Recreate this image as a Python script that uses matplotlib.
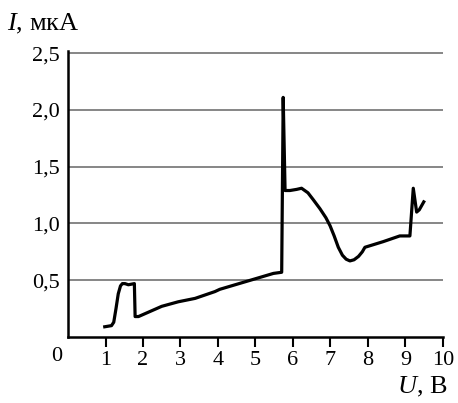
import numpy as np
import matplotlib
matplotlib.use("Agg")
import matplotlib.pyplot as plt

plt.rcParams['font.family'] = ['Liberation Serif', 'DejaVu Serif']
plt.rcParams['mathtext.fontset'] = 'custom'
plt.rcParams['mathtext.it'] = 'Liberation Serif:italic'
plt.rcParams['mathtext.rm'] = 'Liberation Serif'

# Напряжение U, В и ток I, мкА
U = [0.98, 1.16, 1.22, 1.28, 1.34, 1.40, 1.45, 1.52, 1.61, 1.77, 1.79, 1.88, 2.5, 2.94, 3.39,
     3.92, 4.05, 5.48, 5.70, 5.74, 5.79, 5.92, 6.10, 6.23, 6.40, 6.54, 6.72, 6.88, 6.99, 7.10,
     7.21, 7.32, 7.42, 7.52, 7.63, 7.75, 7.85, 7.92, 8.41, 8.85, 9.12, 9.21, 9.30, 9.37, 9.49]
I = [0.09, 0.10, 0.13, 0.25, 0.38, 0.45, 0.47, 0.47, 0.46, 0.47, 0.18, 0.18, 0.27, 0.31, 0.34,
     0.40, 0.42, 0.56, 0.57, 2.11, 1.29, 1.29, 1.30, 1.31, 1.27, 1.21, 1.13, 1.05, 0.98, 0.89,
     0.79, 0.72, 0.685, 0.67, 0.68, 0.71, 0.75, 0.79, 0.84, 0.89, 0.89, 1.31, 1.10, 1.12, 1.19]

x_ticks = [1, 2, 3, 4, 5, 6, 7, 8, 9, 10]
y_ticks = [0.5, 1.0, 1.5, 2.0, 2.5]
y_labels = ['0,5', '1,0', '1,5', '2,0', '2,5']

fig = plt.figure(figsize=(4.58, 4.03), dpi=100)
ax = fig.add_axes([0.1485, 0.1638, 0.8185, 0.710])

for y in y_ticks:
    ax.axhline(y, color='#666666', lw=1.1, zorder=1)

ax.plot(U, I, color='black', lw=2.3, solid_joinstyle='round', zorder=3)

ax.set_xlim(0, 10)
ax.set_ylim(0, 2.52)
ax.set_xticks(x_ticks)
ax.set_xticklabels([str(t) for t in x_ticks])
ax.set_yticks(y_ticks)
ax.set_yticklabels(y_labels)

ax.spines['top'].set_visible(False)
ax.spines['right'].set_visible(False)
ax.spines['left'].set_linewidth(1.8)
ax.spines['bottom'].set_linewidth(1.8)
ax.tick_params(axis='x', length=7, width=1.5, labelsize=16, pad=3)
ax.tick_params(axis='y', length=0, labelsize=16, pad=6)

# ноль в начале координат
ax.text(-0.3, -0.09, '0', transform=ax.transData, fontsize=16,
        ha='center', va='top', clip_on=False)

fig.text(7 / 458, 1 - 24 / 403, r'$I$, мкА', fontsize=19, ha='left', va='center')
fig.text(447 / 458, 1 - 387 / 403, r'$U$, В', fontsize=19, ha='right', va='center')

fig.savefig('out.png', dpi=100)
